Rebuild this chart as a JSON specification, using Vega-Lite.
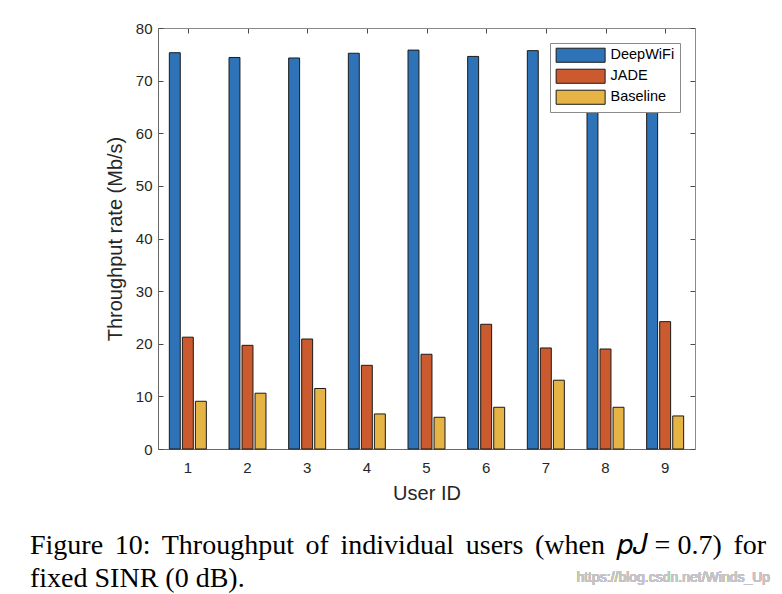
{
  "$schema": "https://vega.github.io/schema/vega-lite/v6.json",
  "autosize": "none",
  "width": 537,
  "height": 421,
  "padding": {"left": 158, "top": 28, "right": 87, "bottom": 145},
  "background": "white",
  "config": {
    "view": {"stroke": null},
    "font": "Liberation Sans",
    "axis": {
      "labelFont": "Liberation Sans",
      "titleFont": "Liberation Sans",
      "labelFontSize": 15,
      "titleFontSize": 20,
      "titleFontWeight": "normal",
      "labelColor": "#262626",
      "titleColor": "#262626",
      "domainColor": "#6a6a6a",
      "tickColor": "#4a4a4a",
      "grid": false,
      "zindex": 1
    }
  },
  "title": {
    "text": ["Figure\u2006 10:\u2006 Throughput\u2006 of\u2006 individual\u2006 users\u2006 (when\u2006 𝑝𝐽 = 0.7)\u2006 for", "fixed SINR (0 dB)."],
    "orient": "bottom",
    "anchor": "start",
    "frame": "group",
    "dx": -128,
    "offset": -53,
    "font": "Liberation Serif",
    "fontSize": 28,
    "fontWeight": "normal",
    "color": "black",
    "lineHeight": 33
  },
  "data": {
    "values": [
      {"user": "1", "method": "DeepWiFi", "value": 75.3},
      {"user": "2", "method": "DeepWiFi", "value": 74.4},
      {"user": "3", "method": "DeepWiFi", "value": 74.3},
      {"user": "4", "method": "DeepWiFi", "value": 75.2},
      {"user": "5", "method": "DeepWiFi", "value": 75.8},
      {"user": "6", "method": "DeepWiFi", "value": 74.6},
      {"user": "7", "method": "DeepWiFi", "value": 75.7},
      {"user": "8", "method": "DeepWiFi", "value": 75.0},
      {"user": "9", "method": "DeepWiFi", "value": 74.8},
      {"user": "1", "method": "JADE", "value": 21.25},
      {"user": "2", "method": "JADE", "value": 19.7},
      {"user": "3", "method": "JADE", "value": 20.9},
      {"user": "4", "method": "JADE", "value": 15.9},
      {"user": "5", "method": "JADE", "value": 18.0},
      {"user": "6", "method": "JADE", "value": 23.7},
      {"user": "7", "method": "JADE", "value": 19.2},
      {"user": "8", "method": "JADE", "value": 19.0},
      {"user": "9", "method": "JADE", "value": 24.2},
      {"user": "1", "method": "Baseline", "value": 9.07},
      {"user": "2", "method": "Baseline", "value": 10.6},
      {"user": "3", "method": "Baseline", "value": 11.5},
      {"user": "4", "method": "Baseline", "value": 6.66},
      {"user": "5", "method": "Baseline", "value": 6.03},
      {"user": "6", "method": "Baseline", "value": 7.93},
      {"user": "7", "method": "Baseline", "value": 13.07},
      {"user": "8", "method": "Baseline", "value": 7.93},
      {"user": "9", "method": "Baseline", "value": 6.28}
    ]
  },
  "layer": [
    {
      "mark": {"type": "bar", "stroke": "#1a1a1a", "strokeWidth": 1},
      "encoding": {
        "x": {
          "field": "user", "type": "nominal",
          "scale": {"paddingInner": 0.38, "paddingOuter": 0.19},
          "axis": {"orient": "bottom", "labelAngle": 0, "tickSize": -5, "labelPadding": 16, "title": "User ID", "titlePadding": 8, "domainWidth": 1.2}
        },
        "xOffset": {
          "field": "method", "type": "nominal",
          "sort": ["DeepWiFi", "JADE", "Baseline"],
          "scale": {"paddingInner": 0.16, "paddingOuter": 0}
        },
        "y": {
          "field": "value", "type": "quantitative",
          "scale": {"domain": [0, 80], "nice": false},
          "axis": {"orient": "left", "values": [0, 10, 20, 30, 40, 50, 60, 70, 80], "tickSize": -5, "labelPadding": 11, "title": "Throughput rate (Mb/s)", "titlePadding": 10}
        },
        "color": {
          "field": "method", "type": "nominal",
          "sort": ["DeepWiFi", "JADE", "Baseline"],
          "scale": {"domain": ["DeepWiFi", "JADE", "Baseline"], "range": ["#2e72b8", "#cb5b2e", "#e5b444"]},
          "legend": {
            "title": null,
            "orient": "none",
            "legendX": 392,
            "legendY": 15,
            "fillColor": "white",
            "strokeColor": "#8a8a8a",
            "padding": 5,
            "symbolType": "M-1,-1.15H7V1.15H-1Z",
            "symbolSize": 150,
            "symbolStrokeColor": "#1a1a1a",
            "symbolStrokeWidth": 1,
            "symbolOpacity": 1,
            "labelFont": "Liberation Sans",
            "labelFontSize": 14.5,
            "labelColor": "black",
            "labelOffset": 41,
            "rowPadding": 2
          }
        }
      }
    },
    {
      "mark": {"type": "point", "opacity": 0},
      "encoding": {
        "x": {
          "field": "user", "type": "nominal",
          "scale": {"paddingInner": 0.38, "paddingOuter": 0.19},
          "axis": {"orient": "top", "labels": false, "tickSize": -5, "title": null, "domainColor": "#8a8a8a"}
        },
        "y": {
          "field": "value", "type": "quantitative",
          "scale": {"domain": [0, 80], "nice": false},
          "axis": {"orient": "right", "labels": false, "values": [0, 10, 20, 30, 40, 50, 60, 70, 80], "tickSize": -5, "title": null, "domainColor": "#8a8a8a"}
        }
      }
    },
    {
      "mark": {"type": "text", "align": "right", "baseline": "middle", "dx": 105, "dy": 129, "font": "Liberation Sans", "fontSize": 14, "color": "#c4c4c4", "clip": false},
      "encoding": {
        "x": {"datum": "9", "type": "nominal", "scale": {"domain": ["1", "2", "3", "4", "5", "6", "7", "8", "9"], "paddingInner": 0.38, "paddingOuter": 0.19}, "axis": null},
        "y": {"datum": 0, "type": "quantitative", "scale": {"domain": [0, 80], "nice": false}, "axis": null},
        "text": {"value": "https://blog.csdn.net/Winds_Up"}
      }
    }
  ],
  "resolve": {"scale": {"x": "independent", "y": "independent"}, "axis": {"x": "independent", "y": "independent"}}
}
